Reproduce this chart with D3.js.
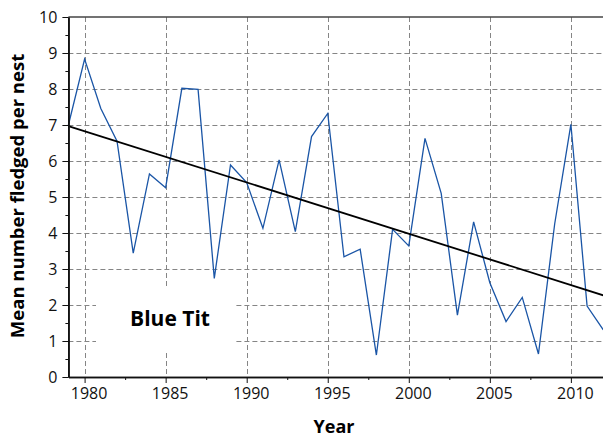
<!DOCTYPE html>
<html>
<head>
<meta charset="utf-8">
<script src="https://cdn.jsdelivr.net/npm/d3@7"></script>
<style>
  body { margin: 0; background: #fff; }
  svg { display: block; font-family: "Open Sans", sans-serif; }
  .grid line { stroke: #858585; stroke-width: 1; stroke-dasharray: 5,3; }
</style>
</head>
<body>
<div id="chart"></div>
<script>

// Blue Tit breeding data
var years = [1979, 1980, 1981, 1982, 1983, 1984, 1985, 1986, 1987, 1988, 1989,
             1990, 1991, 1992, 1993, 1994, 1995, 1996, 1997, 1998, 1999, 2000,
             2001, 2002, 2003, 2004, 2005, 2006, 2007, 2008, 2009, 2010, 2011, 2012];
var fledged = [7.0, 8.83, 7.46, 6.55, 3.44, 5.64, 5.26, 8.02, 7.99, 2.74, 5.89,
               5.4, 4.13, 6.03, 4.04, 6.68, 7.32, 3.34, 3.55, 0.61, 4.1, 3.64,
               6.63, 5.1, 1.72, 4.31, 2.62, 1.54, 2.21, 0.64, 4.25, 7.02, 1.97, 1.31];

// linear trend, end points
var trendYears = [1979, 2012];
var trendValues = [6.97, 2.27];

var yTicks = [0, 1, 2, 3, 4, 5, 6, 7, 8, 9, 10];
var xTicks = [1980, 1985, 1990, 1995, 2000, 2005, 2010];
var speciesLabel = "Blue Tit";

var W = 603, H = 437;
var margin = { top: 17, right: 0, bottom: 60, left: 68.4 };

var svg = d3.select("#chart").append("svg")
    .attr("width", W)
    .attr("height", H);

var x = d3.scaleLinear().domain([1979, 2012]).range([margin.left, W - margin.right + 0.3]);
var y = d3.scaleLinear().domain([0, 10]).range([H - margin.bottom, margin.top]);

// grid
svg.append("g").attr("class", "grid")
    .selectAll("line.h").data(yTicks.slice(1, -1)).enter().append("line")
    .attr("x1", margin.left).attr("x2", W)
    .attr("y1", function(d) { return Math.round(y(d)) + 0.5; })
    .attr("y2", function(d) { return Math.round(y(d)) + 0.5; });

svg.append("g").attr("class", "grid")
    .selectAll("line.v").data(xTicks).enter().append("line")
    .attr("x1", function(d) { return Math.round(x(d)) + 0.5; })
    .attr("x2", function(d) { return Math.round(x(d)) + 0.5; })
    .attr("y1", y(10)).attr("y2", y(0));

// top frame line
svg.append("line")
    .attr("x1", margin.left).attr("x2", W)
    .attr("y1", y(10)).attr("y2", y(10))
    .attr("stroke", "#444").attr("stroke-width", 1.3);

// legend box (blanks the grid behind it)
svg.append("rect")
    .attr("x", 96).attr("y", 287)
    .attr("width", 140).attr("height", 66)
    .attr("fill", "#fff");
svg.append("text")
    .attr("x", 170).attr("y", 326)
    .attr("text-anchor", "middle")
    .style("font-weight", "bold")
    .style("font-size", "21px")
    .text(speciesLabel);

// data line
var series = years.map(function(d, i) { return { year: d, v: fledged[i] }; });
var line = d3.line()
    .x(function(d) { return x(d.year); })
    .y(function(d) { return y(d.v); });

svg.append("path")
    .datum(series)
    .attr("fill", "none")
    .attr("stroke", "#1a55a6")
    .attr("stroke-width", 1.3)
    .attr("d", line);

// trend
var trend = trendYears.map(function(d, i) { return { year: d, v: trendValues[i] }; });
svg.append("path")
    .datum(trend)
    .attr("fill", "none")
    .attr("stroke", "#000")
    .attr("stroke-width", 1.8)
    .attr("d", line);

// axes
var yAxis = d3.axisLeft(y).tickValues(yTicks).tickSize(6).tickSizeOuter(0).tickPadding(5).tickFormat(d3.format("d"));
var yMinor = d3.axisLeft(y).tickValues(d3.range(0.5, 10, 1)).tickSize(3).tickSizeOuter(0).tickFormat("");
var xAxis = d3.axisBottom(x).tickValues(xTicks).tickSize(6).tickSizeOuter(0).tickPadding(5).tickFormat(d3.format("d"));
var xMinor = d3.axisBottom(x).tickValues(d3.range(1982.5, 2012, 5)).tickSize(3).tickSizeOuter(0).tickFormat("");

function styleAxis(g) {
    g.select(".domain").attr("stroke", "#111").attr("stroke-width", 1.6);
    g.selectAll(".tick line").attr("stroke", "#111").attr("stroke-width", 1);
    g.selectAll(".tick text").attr("fill", "#111").style("font-size", "16px").style("font-family", "Open Sans");
}

svg.append("g").attr("transform", "translate(" + margin.left + ",0)").call(yMinor).call(styleAxis);
svg.append("g").attr("transform", "translate(" + margin.left + ",0)").call(yAxis).call(styleAxis);
svg.append("g").attr("transform", "translate(0," + y(0) + ")").call(xMinor).call(styleAxis);
var gx = svg.append("g").attr("transform", "translate(0," + y(0) + ")").call(xAxis).call(styleAxis);
gx.selectAll(".tick text").attr("dx", 4);

// axis titles
svg.append("text")
    .attr("transform", "translate(24," + 196 + ") rotate(-90)")
    .attr("text-anchor", "middle")
    .style("font-weight", "bold")
    .style("font-size", "18.5px")
    .text("Mean number fledged per nest");

svg.append("text")
    .attr("x", 334).attr("y", 433)
    .attr("text-anchor", "middle")
    .style("font-weight", "bold")
    .style("font-size", "18px")
    .text("Year");

</script>
</body>
</html>
